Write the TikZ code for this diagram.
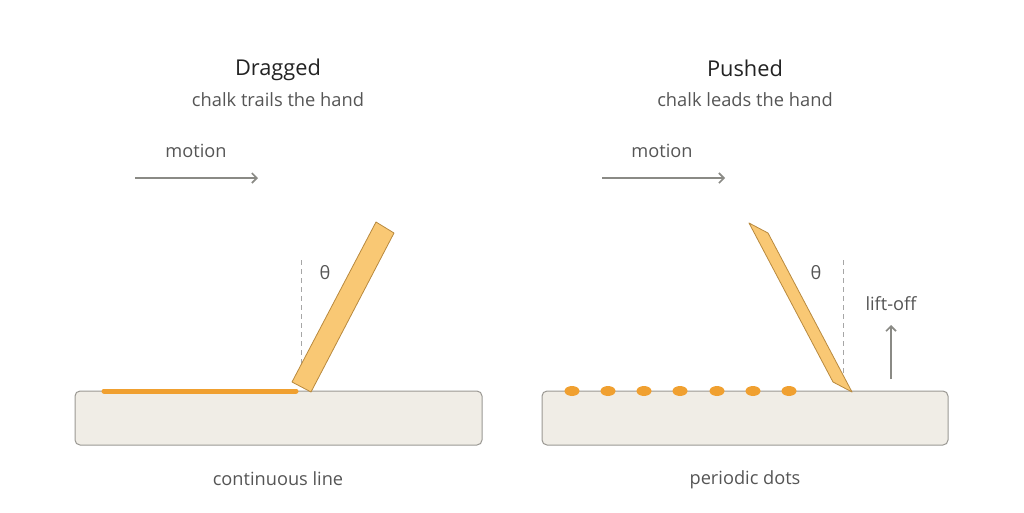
\documentclass[tikz,border=0pt]{standalone}
\usepackage{fontspec}
\setmainfont{Open Sans}
\usetikzlibrary{arrows.meta,shapes.geometric}
\definecolor{surf}{HTML}{F0EDE6}
\definecolor{surfline}{HTML}{9A9893}
\definecolor{chalk}{HTML}{F9C874}
\definecolor{chalkline}{HTML}{B8893E}
\definecolor{chalkmark}{HTML}{F0A030}
\definecolor{arr}{HTML}{8A8A85}
\definecolor{txt}{HTML}{555555}
\definecolor{ttl}{HTML}{222222}
\tikzset{
  surface/.style={draw=surfline, fill=surf, line width=1pt, rounded corners=5pt},
  chalkstick/.style={draw=chalkline, fill=chalk, line width=0.8pt, line join=round},
  motionarrow/.style={draw=arr, line width=1.6pt, -{Straight Barb[length=5pt,width=10pt]}},
  guide/.style={draw=black!35, line width=0.8pt, dash pattern=on 5pt off 4pt},
  title/.style={text=ttl, font=\fontsize{21.8}{26}\selectfont},
  sub/.style={text=txt, font=\fontsize{18.3}{22}\selectfont},
  lbl/.style={text=txt, font=\fontsize{18.2}{22}\selectfont},
  dotmark/.style={fill=chalkmark, draw=none, ellipse, minimum width=15pt, minimum height=10pt, inner sep=0pt},
  linemark/.style={draw=chalkmark, line width=5pt, line cap=round}
}
\begin{document}
\begin{tikzpicture}[x=1pt,y=-1pt]
\useasboundingbox (0,0) rectangle (1024,512);
% left panel
\node[title] (t1) at (278,70) {Dragged};
\node[sub] (s1) at (278,99.5) {chalk trails the hand};
\node[lbl] (m1) at (196,150.5) {motion};
\coordinate (m1a) at (135,178);
\coordinate (m1b) at (258,178);
\draw[motionarrow] (m1a) -- (m1b);
\draw[surface] (75,391) rectangle (482,445);
\coordinate (la) at (104,391);
\coordinate (lb) at (296,391);
\draw[linemark] (la) -- (lb);
\coordinate (g1a) at (301,260);
\coordinate (g1b) at (301,385);
\draw[guide] (g1a) -- (g1b);
\node[lbl] (th1) at (325,273) {θ};
\draw[chalkstick] (292,382) -- (311,392) -- (394,233) -- (376,222) -- cycle;
\node[lbl] (b1) at (278,478.5) {continuous line};
% right panel
\node[title] (t2) at (745,68.5) {Pushed};
\node[sub] (s2) at (745,99.5) {chalk leads the hand};
\node[lbl] (m2) at (662,150.5) {motion};
\coordinate (m2a) at (602,178);
\coordinate (m2b) at (725,178);
\draw[motionarrow] (m2a) -- (m2b);
\draw[surface] (542,391) rectangle (948,445);
\foreach \i/\x in {1/572,2/608,3/644,4/680,5/717,6/753,7/789}
  \node[dotmark] (d\i) at (\x,391) {};
\coordinate (g2a) at (843,260);
\coordinate (g2b) at (843,385);
\draw[guide] (g2a) -- (g2b);
\node[lbl] (th2) at (816,273) {θ};
\draw[chalkstick] (749,223) -- (768,233) -- (852,392) -- (833,382) -- cycle;
\node[lbl] (lo) at (891,304) {lift-off};
\coordinate (loa) at (891,379);
\coordinate (lob) at (891,325);
\draw[motionarrow] (loa) -- (lob);
\node[lbl] (b2) at (745,480) {periodic dots};
\end{tikzpicture}
\end{document}
